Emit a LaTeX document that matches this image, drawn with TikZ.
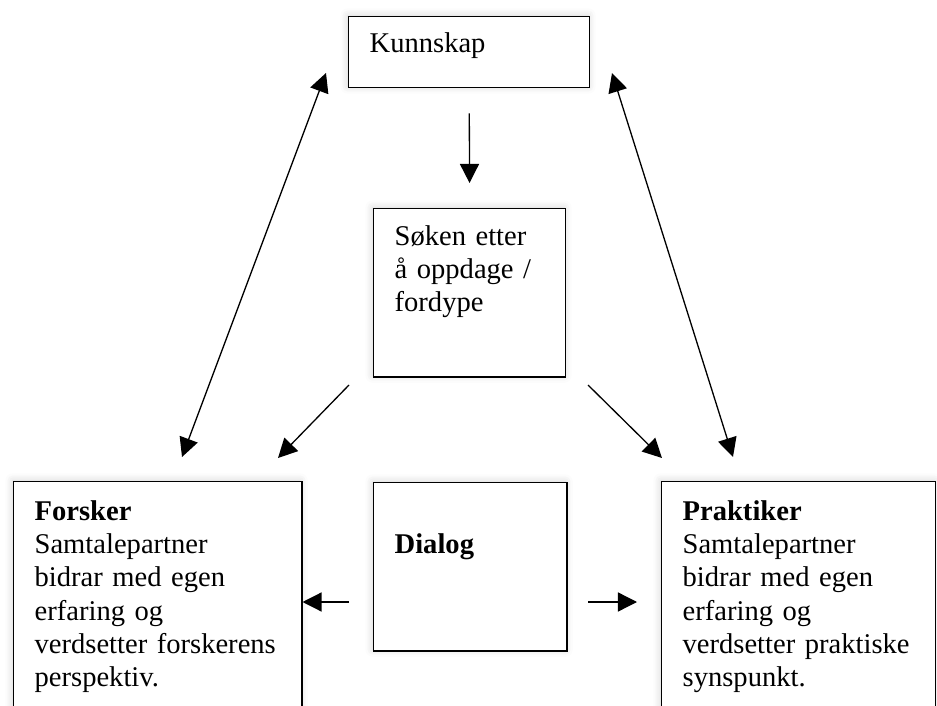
\documentclass[tikz,border=0pt]{standalone}
\usepackage{fontspec}
\setmainfont{Liberation Serif}
\usetikzlibrary{arrows.meta,shadows.blur}

\begin{document}
\begin{tikzpicture}[x=0.42pt,y=-0.42pt,
  boks/.style={draw,line width=0.6pt,fill=white,anchor=north west,align=left,
    inner xsep=8.8pt,inner ysep=0pt,font=\fontsize{12}{13.9}\selectfont,
    blur shadow={shadow xshift=-0.5pt,shadow yshift=0.5pt,shadow blur radius=3pt,shadow opacity=18}},
  pil/.style={-{Triangle[length=8pt,width=8pt]},line width=0.55pt},
  dobbelpil/.style={{Triangle[length=8pt,width=8pt]}-{Triangle[length=8pt,width=8pt]},line width=0.55pt}]
  \clip (0,0) rectangle (937,706);

  \node[boks,text width=83.6pt,text height=15.1pt,text depth=14.7pt] (kunnskap) at (348,16) {Kunnskap};
  \node[boks,text width=63pt,text height=15.5pt,text depth=55.1pt] (soken) at (373,208) {S{\o}ken etter\\{\aa} oppdage /\\fordype};
  \node[boks,text width=63.5pt,text height=29.8pt,text depth=40.8pt] (dialog) at (373,482) {\textbf{Dialog}};
  \node[boks,text width=103.4pt,text height=16.4pt,text depth=84pt] (forsker) at (13,481) {\textbf{Forsker}\\Samtalepartner\\bidrar med egen\\erfaring og\\verdsetter forskerens\\perspektiv.};
  \node[boks,text width=97.5pt,text height=16.4pt,text depth=84pt] (praktiker) at (661,481) {\textbf{Praktiker}\\Samtalepartner\\bidrar med egen\\erfaring og\\verdsetter praktiske\\synspunkt.};

  \coordinate (vo) at (326,73);
  \coordinate (vn) at (182,457);
  \coordinate (ho) at (612,73);
  \coordinate (hn) at (733,457);
  \coordinate (sv) at (349,385);
  \coordinate (sf) at (278,458);
  \coordinate (sh) at (588,385);
  \coordinate (sp) at (662,458);
  \coordinate (dv) at (349,602);
  \coordinate (dh) at (588,602);
  \coordinate (dp) at (637,602);

  \draw[pil,shorten <=10.5pt,shorten >=10.5pt] (kunnskap.south) -- (soken.north);
  \draw[dobbelpil] (vo) -- (vn);
  \draw[dobbelpil] (ho) -- (hn);
  \draw[pil] (sv) -- (sf);
  \draw[pil] (sh) -- (sp);
  \draw[pil] (dv) -- (dv -| forsker.east);
  \draw[pil] (dh) -- (dp);
\end{tikzpicture}
\end{document}
